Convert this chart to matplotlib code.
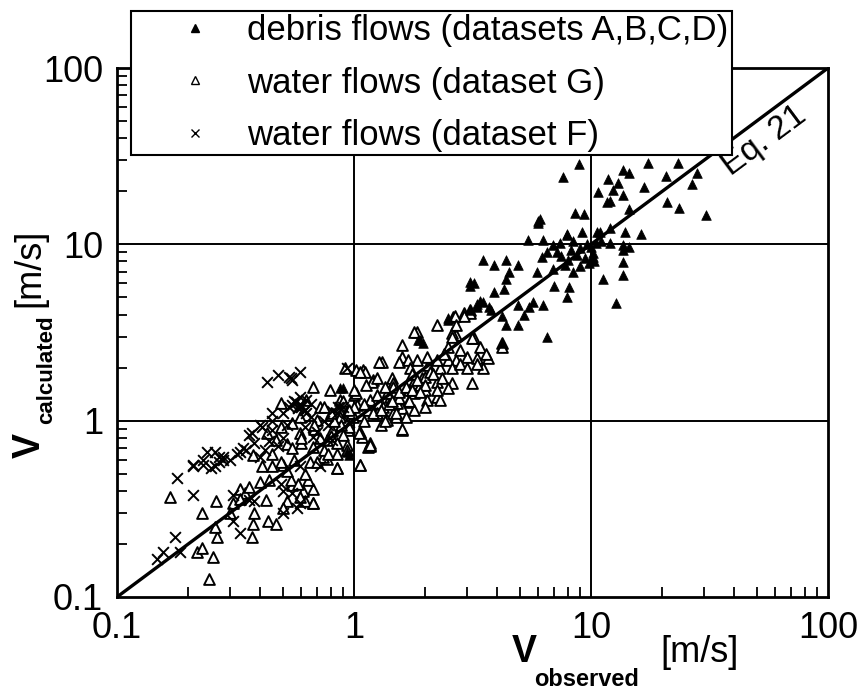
import numpy as np
import matplotlib
matplotlib.use("Agg")
import matplotlib.pyplot as plt
from matplotlib.lines import Line2D

FONT = ['Liberation Sans Narrow', 'Liberation Sans', 'DejaVu Sans']
plt.rcParams['font.family'] = FONT

# ---------------- data ----------------
debris_x = [17.4, 23.3, 13.6, 14.5, 11.8, 13.0, 20.7, 16.7, 10.7, 12.4, 13.6, 12.0, 26.7, 28.0,
            20.9, 23.5, 30.5, 14.5, 12.0, 13.9, 16.3, 10.6, 13.6, 14.4, 10.2, 13.6, 13.6, 11.2,
            13.6, 12.7, 7.6, 8.9, 8.6, 9.3, 11.7, 6.0, 7.9, 9.2, 5.4, 6.3, 6.9, 6.5, 7.2, 8.2,
            8.7, 10.2, 9.4, 3.5, 4.4, 4.9, 3.9, 7.8, 6.9, 5.9, 4.5, 8.4, 4.4, 3.1, 3.1, 7.0,
            8.1, 4.3, 3.9, 7.9, 3.4, 3.7, 4.9, 5.5, 6.3, 5.7, 3.3, 3.1, 3.8, 4.2, 5.2, 4.4,
            4.9, 2.5, 6.5, 4.2, 1.95, 1.86, 1.9, 2.5, 0.90, 0.87, 0.93, 0.95, 3.2, 3.3, 3.5,
            9.0, 9.6, 10.0, 8.0, 7.5, 9.8, 9.0, 10.5, 11.0, 12.0, 7.4, 8.4, 10.3, 6.2, 7.9,
            10.9, 6.0, 6.1]
debris_y = [29.0, 29.0, 26.4, 25.4, 23.5, 22.3, 24.4, 21.2, 19.8, 20.3, 19.1, 17.6, 22.0, 25.4,
            17.4, 16.1, 14.7, 15.9, 12.4, 11.8, 11.5, 11.8, 9.9, 9.6, 8.9, 9.3, 7.9, 6.4,
            6.7, 4.65, 24.1, 28.6, 15.1, 14.9, 17.4, 13.6, 11.5, 11.8, 10.6, 10.6, 9.9, 9.1, 9.0, 9.3,
            8.7, 8.5, 8.4, 8.1, 8.1, 7.6, 7.6, 7.6, 7.2, 7.0, 7.0, 7.0, 6.4, 6.1, 5.8, 5.8,
            5.7, 5.6, 5.4, 5.0, 4.8, 4.4, 4.5, 4.4, 4.5, 4.7, 4.4, 4.25, 4.25, 3.9, 4.0, 3.5,
            3.5, 3.8, 3.0, 2.75, 2.76, 2.85, 2.85, 3.7, 1.53, 1.53, 0.66, 0.64, 6.0, 4.6, 4.7,
            9.5, 10.0, 9.7, 8.2, 8.6, 7.8, 7.5, 10.2, 10.5, 10.2, 10.2, 10.4, 8.0, 8.5, 11.3,
            11.7, 13.2, 14.0]

water_g_x = [2.24, 1.84, 1.59, 1.59, 1.55, 1.31, 1.09, 1.02, 1.20, 1.45, 2.62, 2.9, 3.1, 2.7,
             3.2, 2.6, 2.6, 3.15, 3.67, 3.5, 3.3, 3.0, 2.7, 2.5, 2.3, 2.05, 2.25, 2.03, 2.5,
             2.24, 2.25, 2.0, 1.8, 1.69, 1.6, 1.6, 1.17, 1.08, 1.38, 1.46, 1.42, 1.28, 1.94,
             1.77, 2.0, 1.84, 1.69, 1.72, 2.68, 1.8, 1.28, 1.11, 1.06, 1.19, 1.0, 0.93, 1.03,
             1.17, 0.87, 1.06, 1.6, 1.15, 1.46, 1.38, 1.28, 1.52, 1.8, 2.03, 2.3, 2.24, 2.5,
             1.17, 1.06, 0.85, 0.67, 0.67, 0.61, 0.52, 0.62, 0.50, 0.64, 0.55, 0.85, 0.77, 0.93,
             0.244, 0.254, 0.217, 0.228, 0.264, 0.259, 0.228, 0.167, 0.262, 0.371, 0.375, 0.38,
             0.433, 0.47, 0.425, 0.33, 0.346, 0.50, 0.59, 0.67, 0.54, 0.44, 0.49, 0.41, 0.375,
             0.45, 0.56, 0.65, 0.52, 0.31, 0.30, 0.55, 0.59, 0.67, 0.74, 0.77, 0.85, 1.06, 1.17,
             0.93, 0.81, 0.94, 0.99, 0.87, 0.70, 0.59, 0.49, 0.43, 0.52, 0.47, 0.49, 0.63, 0.72,
             0.79, 1.02, 1.32, 1.46, 0.67, 0.92, 2.7, 3.1, 2.6, 2.9, 3.15, 4.2, 4.2, 2.0,
             1.5, 1.3, 1.1, 0.95, 0.8, 0.75, 1.25, 1.4, 1.7, 1.9, 1.15, 0.98, 0.88, 1.35,
             0.72, 0.6, 0.68, 0.82, 1.0, 1.25, 1.55, 1.75, 2.1, 2.4, 2.8, 3.4, 1.65, 0.9,
             1.1, 1.2, 1.3, 1.45, 1.55, 1.65, 1.75, 1.85, 2.0, 2.15, 2.35, 2.6, 2.8, 3.0,
             3.3, 3.6, 1.05, 0.85, 0.78, 0.7, 0.62, 0.58, 0.9, 1.0, 1.12, 1.25, 0.95, 0.8,
             0.75, 0.68, 0.6, 0.55, 0.45, 0.4, 0.36, 0.33, 1.35, 1.5, 1.7, 1.9]
water_g_y = [3.5, 3.18, 2.7, 2.30, 2.14, 2.14, 1.94, 1.94, 1.70, 1.74, 3.87, 4.1, 4.25, 3.07,
             2.95, 3.15, 1.64, 1.64, 2.27, 2.0, 2.27, 2.3, 2.2, 2.2, 2.0, 2.07, 2.2, 2.3, 2.6,
             1.66, 1.36, 1.49, 1.43, 1.28, 1.18, 0.89, 0.75, 0.81, 1.01, 1.11, 1.36, 1.19, 1.74,
             1.64, 1.77, 2.2, 2.2, 1.98, 3.9, 3.18, 2.14, 1.89, 1.89, 1.66, 1.40, 1.14, 1.23,
             1.31, 1.05, 0.86, 0.9, 0.71, 1.64, 1.43, 1.26, 1.26, 1.15, 1.31, 1.31, 1.49, 1.53,
             0.72, 0.56, 0.54, 0.41, 0.34, 0.40, 0.35, 0.35, 0.56, 0.46, 0.43, 0.65, 0.61, 0.73,
             0.126, 0.169, 0.18, 0.19, 0.219, 0.249, 0.30, 0.37, 0.35, 0.219, 0.26, 0.30,
             0.27, 0.26, 0.354, 0.41, 0.39, 0.32, 0.37, 0.34, 0.46, 0.46, 0.58, 0.55, 0.64,
             0.65, 0.60, 0.58, 0.52, 0.34, 0.30, 0.97, 0.85, 0.71, 0.62, 0.78, 0.54, 0.56, 0.73,
             0.68, 0.89, 0.89, 1.05, 1.31, 1.01, 1.05, 0.92, 0.85, 0.74, 0.78, 1.26, 1.31, 1.19,
             1.49, 1.43, 1.19, 1.55, 1.55, 2.0, 3.5, 4.1, 3.0, 3.9, 2.95, 2.75, 2.6, 1.2,
             1.05, 0.95, 1.0, 0.92, 0.82, 0.68, 1.4, 1.25, 1.5, 1.6, 1.15, 1.1, 0.95, 1.55,
             0.8, 0.75, 0.9, 1.0, 1.2, 1.1, 1.35, 1.85, 1.9, 2.4, 2.5, 2.6, 1.05, 0.83,
             1.25, 1.1, 1.15, 1.3, 1.45, 1.55, 1.5, 1.7, 1.6, 1.85, 1.75, 2.0, 2.1, 2.0,
             2.1, 2.4, 0.85, 0.75, 0.65, 0.58, 0.5, 0.44, 1.3, 1.5, 1.6, 1.75, 1.15, 1.1,
             1.2, 0.95, 0.8, 0.7, 0.55, 0.45, 0.42, 0.36, 1.0, 1.1, 1.3, 1.45]

water_f_x = [0.43, 0.48, 0.53, 0.50, 0.36, 0.41, 0.24, 0.26, 0.28, 0.32, 0.35, 0.21, 0.23, 0.25,
             0.55, 0.37, 0.27, 0.33, 0.26, 0.18, 0.21, 0.176, 0.184, 0.156, 0.147, 0.31, 0.31,
             0.33, 0.50, 0.575, 0.50, 0.59, 0.55, 0.38, 0.36, 0.45, 0.72, 0.63, 0.81, 0.87, 0.67,
             0.59, 0.63, 0.81, 0.59, 0.49, 0.59, 0.54, 0.58, 0.86, 0.93, 0.55, 0.57, 0.59, 0.60,
             0.56, 0.58, 0.28, 0.21, 0.44, 0.45, 0.5, 0.48, 0.42, 0.52, 0.62, 0.70, 0.75, 0.78,
             0.66, 0.85, 0.9, 0.95, 0.40, 0.62, 0.66, 0.53, 0.45, 0.38, 0.30, 0.27, 0.23, 0.34,
             0.40]
water_f_y = [1.66, 1.81, 1.77, 1.10, 0.83, 0.92, 0.66, 0.66, 0.62, 0.65, 0.68, 0.56, 0.56, 0.54,
             1.70, 0.85, 0.62, 0.66, 0.55, 0.47, 0.38, 0.219, 0.18, 0.18, 0.164, 0.38, 0.27,
             0.23, 0.40, 0.32, 0.30, 0.34, 0.39, 0.35, 0.355, 1.10, 0.55, 1.10, 1.14, 1.19, 0.81,
             1.36, 1.31, 0.78, 0.55, 0.44, 1.89, 1.74, 1.19, 1.19, 1.99, 1.22, 1.27, 1.25, 1.20,
             1.30, 1.18, 0.60, 0.55, 0.77, 0.88, 0.80, 0.72, 0.68, 0.95, 0.92, 0.86, 1.0, 0.95,
             1.05, 1.10, 1.2, 0.98, 0.94, 1.15, 1.25, 1.2, 1.0, 0.75, 0.6, 0.58, 0.6, 0.7,
             0.62]

eq_line = [0.1, 100]
ticks = [0.1, 1, 10, 100]
tick_labels = ['0.1', '1', '10', '100']
grid_vals = [1, 10]

# ---------------- figure ----------------
W, H = 861, 693
fig = plt.figure(figsize=(W / 100, H / 100), dpi=100)
ax = fig.add_axes([117 / W, 1 - 597 / H, 711 / W, 529 / H])
ax.set_xscale('log')
ax.set_yscale('log')
ax.set_xlim(0.1, 100)
ax.set_ylim(0.1, 100)

for g in grid_vals:
    ax.axvline(g, color='black', lw=1.4, zorder=1)
    ax.axhline(g, color='black', lw=1.4, zorder=1)

ax.plot(eq_line, eq_line, color='black', lw=2.4, zorder=5, solid_capstyle='butt')

ax.scatter(water_g_x, water_g_y, marker='^', s=60, facecolors='white',
           edgecolors='black', linewidths=1.4, zorder=3)
ax.scatter(water_f_x, water_f_y, marker='x', s=60, color='black', linewidths=1.4, zorder=3)
ax.scatter(debris_x, debris_y, marker='^', s=48, color='black', linewidths=0.5, zorder=4)

for s in ax.spines.values():
    s.set_linewidth(2.0)

ax.set_xticks(ticks)
ax.set_xticklabels(tick_labels)
ax.set_yticks(ticks)
ax.set_yticklabels(tick_labels)
ax.tick_params(which='major', direction='in', length=0, labelsize=26, pad=10,
               top=False, right=False)
ax.tick_params(which='minor', direction='in', length=7, width=1.3, top=False, right=False)
ax.xaxis.set_minor_formatter(matplotlib.ticker.NullFormatter())
ax.yaxis.set_minor_formatter(matplotlib.ticker.NullFormatter())

# Eq. 21 label along the line
p1 = ax.transData.transform((1, 1))
p2 = ax.transData.transform((10, 10))
ang = np.degrees(np.arctan2(p2[1] - p1[1], p2[0] - p1[0]))
ax.text(54, 38.6, 'Eq. 21', rotation=ang, rotation_mode='anchor', ha='center', va='center',
        fontsize=24, zorder=6)

# legend
h1 = Line2D([], [], marker='^', ls='none', color='black', markersize=6)
h2 = Line2D([], [], marker='^', ls='none', markerfacecolor='white', markeredgecolor='black',
            markersize=6, markeredgewidth=1.0)
h3 = Line2D([], [], marker='x', ls='none', color='black', markersize=6, markeredgewidth=1.0)
leg = fig.legend([h1, h2, h3],
                 ['debris flows (datasets A,B,C,D)', 'water flows (dataset G)',
                  'water flows (dataset F)'],
                 loc='upper left', bbox_to_anchor=(131 / W, 1 - 11 / H), fontsize=25,
                 frameon=True, fancybox=False, framealpha=1, edgecolor='black',
                 borderpad=0.1, labelspacing=0.55, handletextpad=-0.25, handlelength=3.5,
                 borderaxespad=0)
leg.get_frame().set_linewidth(1.5)
leg.set_zorder(10)

# axis labels
fig.text(524 / W, 1 - 652 / H, 'V', fontsize=27, fontweight='bold', ha='center', va='center')
fig.text(587 / W, 1 - 680 / H, 'observed', fontsize=17, fontweight='bold', ha='center', va='center')
fig.text(700 / W, 1 - 652 / H, '[m/s]', fontsize=26, ha='center', va='center')

fig.text(30 / W, 1 - 445 / H, 'V', fontsize=27, fontweight='bold', ha='center', va='center',
         rotation=90)
fig.text(47 / W, 1 - 370 / H, 'calculated', fontsize=16, fontweight='bold', ha='center',
         va='center', rotation=90)
fig.text(30 / W, 1 - 268 / H, '[m/s]', fontsize=26, ha='center', va='center', rotation=90)

fig.savefig('out.png', dpi=100)
